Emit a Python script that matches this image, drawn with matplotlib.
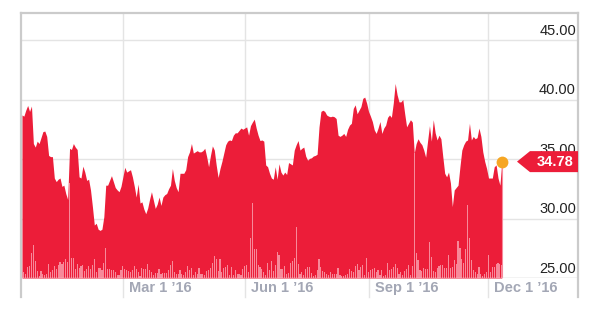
import matplotlib
matplotlib.use('Agg')
import matplotlib.pyplot as plt
import matplotlib.transforms as mtransforms
from matplotlib.patches import Polygon
import numpy as np
import pandas as pd

plt.rcParams['font.family'] = ['Liberation Sans', 'DejaVu Sans']

start_date = '2015-12-11'
market_holidays = ['2015-12-25', '2016-01-01', '2016-01-18', '2016-02-15', '2016-03-25',
                   '2016-05-30', '2016-07-04', '2016-09-05', '2016-11-24']

# daily close
close = [
    38.7, 38.6, 39.1, 39.5, 39.0, 39.45, 36.3, 36.0, 36.5, 36.3,
    36.8, 37.3, 37.35, 36.9, 35.3, 35.2, 35.2, 33.4, 33.1, 33.3,
    33.4, 32.7, 32.8, 32.1, 31.6, 35.9, 35.8, 36.3, 36.0, 35.8,
    33.5, 33.4, 34.4, 33.9, 33.2, 33.3, 32.4, 31.0, 29.45, 29.6,
    29.1, 29.0, 29.1, 30.15, 32.8, 32.8, 33.2, 33.6, 33.1, 32.6,
    32.4, 32.25, 32.7, 33.5, 34.3, 33.9, 34.0, 34.1, 33.5, 32.7,
    31.8, 32.9, 31.3, 31.4, 30.8, 30.4, 30.85, 31.6, 32.25, 31.55,
    30.85, 31.2, 31.8, 31.1, 31.8, 32.0, 32.1, 32.5, 32.8, 34.2,
    33.2, 32.6, 32.25, 33.8, 33.8, 33.8, 34.1, 35.2, 35.6, 36.3,
    35.5, 35.6, 35.7, 35.6, 35.6, 35.7, 35.9, 35.2, 34.35, 35.3,
    36.1, 35.75, 34.5, 33.45, 34.2, 34.8, 35.5, 36.2, 36.5, 36.6,
    36.55, 37.0, 37.2, 37.2, 37.4, 37.6, 37.5, 37.6, 37.7, 37.0,
    37.8, 38.1, 38.35, 37.6, 37.0, 36.55, 36.6, 36.5, 34.5, 34.35,
    33.8, 33.4, 33.3, 34.35, 33.3, 34.6, 33.9, 33.65, 33.9, 33.7,
    34.7, 34.6, 34.5, 35.75, 36.2, 36.55, 35.75, 35.9, 36.0, 35.25,
    34.9, 35.05, 35.1, 35.25, 35.3, 35.4, 37.7, 39.0, 39.1, 39.0,
    38.7, 38.6, 38.55, 38.6, 38.55, 38.4, 37.0, 36.9, 37.0, 37.15,
    36.9, 37.5, 37.85, 38.0, 39.25, 39.55, 38.8, 39.1, 39.4, 40.1,
    40.2, 39.7, 39.0, 38.6, 38.15, 37.45, 37.15, 37.6, 38.15, 37.15,
    37.6, 37.85, 38.5, 38.7, 38.5, 39.7, 41.35, 40.4, 39.8, 39.8,
    40.0, 38.8, 37.7, 38.0, 38.3, 38.1, 35.5, 36.3, 36.7, 36.4,
    36.2, 35.75, 35.15, 36.5, 37.8, 36.5, 38.3, 37.2, 36.6, 37.0,
    36.7, 35.2, 33.8, 33.5, 33.9, 33.0, 31.0, 32.4, 32.6, 32.8,
    34.35, 35.75, 36.2, 36.5, 36.6, 38.0, 36.6, 36.9, 36.7, 36.8,
    37.6, 36.9, 35.6, 34.8, 34.2, 33.4, 33.4, 33.4, 34.35, 34.5,
    33.4, 32.8, 34.78,
]

# daily volume (relative units, chart volume scale tops out at 265)
volume = [
    5, 6, 4, 11, 12, 25, 33, 17, 7, 2,
    7, 4, 3, 4, 14, 6, 8, 12, 9, 13,
    16, 14, 16, 19, 16, 95, 20, 20, 9, 14,
    10, 12, 13, 7, 9, 12, 9, 13, 19, 6,
    10, 10, 8, 15, 30, 9, 9, 8, 8, 6,
    3, 3, 8, 12, 9, 8, 7, 6, 8, 12,
    9, 6, 2, 10, 9, 9, 14, 8, 6, 3,
    5, 5, 9, 4, 5, 5, 5, 8, 13, 17,
    6, 4, 4, 8, 4, 3, 6, 12, 8, 10,
    3, 6, 4, 10, 4, 4, 3, 7, 8, 10,
    15, 22, 19, 7, 19, 6, 10, 11, 13, 3,
    11, 3, 8, 4, 4, 3, 9, 12, 13, 6,
    40, 75, 29, 29, 13, 11, 9, 6, 3, 15,
    8, 17, 7, 13, 26, 23, 9, 9, 12, 4,
    5, 15, 17, 20, 51, 14, 4, 6, 3, 9,
    11, 11, 5, 2, 3, 8, 19, 11, 7, 6,
    4, 3, 6, 4, 4, 4, 10, 3, 2, 2,
    3, 4, 9, 7, 6, 12, 14, 8, 11, 13,
    3, 20, 6, 8, 9, 10, 6, 8, 3, 8,
    2, 3, 15, 8, 9, 11, 14, 10, 4, 6,
    3, 7, 9, 13, 3, 12, 125, 25, 18, 8,
    7, 10, 9, 9, 36, 21, 7, 6, 10, 12,
    13, 13, 10, 10, 23, 10, 11, 18, 14, 37,
    30, 19, 15, 29, 73, 40, 18, 8, 6, 4,
    11, 4, 2, 4, 6, 23, 6, 11, 11, 14,
    15, 14, 13,
]
vol_axis_max = 265

tick_dates = ['2016-03-01', '2016-06-01', '2016-09-01', '2016-12-01']
tick_labels = ['Mar 1 \u201916', 'Jun 1 \u201916', 'Sep 1 \u201916', 'Dec 1 \u201916']
price_ticks = [25, 30, 35, 40, 45]
last_price = close[-1]

red = '#ec1d39'
pink = '#f7899a'
grid_c = '#e4e4e4'
border_c = '#cbcbcb'

dates = pd.bdate_range(start=start_date, periods=len(close), freq='C', holidays=market_holidays)
idx = np.arange(len(close))
tick_pos = dates.searchsorted(pd.to_datetime(tick_dates))

fig = plt.figure(figsize=(6.02, 3.24), dpi=100)
ax = fig.add_axes([21 / 602, 1 - 278 / 324, 557 / 602, 265 / 324])
ymin, ymax = 25, 47.27
ax.set_xlim(-0.5, len(close) + 39)
ax.set_ylim(ymin, ymax)
for s in ax.spines.values():
    s.set_visible(False)
ax.set_xticks([])
ax.set_yticks([])

below = -19 / 265
for p in price_ticks:
    ax.axhline(p, color=grid_c, lw=1, zorder=1)
for t in tick_pos:
    ax.axvline(t, ymin=below, ymax=1, color=grid_c, lw=1, zorder=1, clip_on=False)

ax.fill_between(idx, close, ymin, color=red, lw=0, zorder=2)
vol_h = np.array(volume) * (ymax - ymin) / vol_axis_max
ax.bar(idx, vol_h, bottom=ymin, width=0.6, color=pink, lw=0, zorder=3)
ax.plot([idx[-1], idx[-1]], [ymin, last_price], color=pink, lw=0.8, zorder=3)
ax.axhline(ymin, color='#dedede', lw=1, zorder=4)

# frame
ax.plot([0, 0], [below, 1], transform=ax.transAxes, color=border_c, lw=1.6, clip_on=False, zorder=5)
ax.plot([1, 1], [below, 1], transform=ax.transAxes, color=border_c, lw=1.6, clip_on=False, zorder=5)
ax.plot([0, 1], [1, 1], transform=ax.transAxes, color=border_c, lw=1.6, clip_on=False, zorder=5)

# y labels (the 35.00 one sits behind the price tag, as in the original)
for p in price_ticks:
    ax.annotate(f'{p:.2f}', xy=(1, p), xycoords=('axes fraction', 'data'),
                xytext=(-1.5, 6.5), textcoords='offset points',
                ha='right', va='center', fontsize=10.5, color='#222222', zorder=4)

# x labels
for t, lab in zip(tick_pos, tick_labels):
    ax.annotate(lab, xy=(t, 0), xycoords=('data', 'axes fraction'),
                xytext=(4.3, -7.3), textcoords='offset points',
                ha='left', va='center', fontsize=10.5, fontweight='bold', color='#a3a7b5')

# last price marker and tag
ax.plot(idx[-1], last_price, 'o', color='#f6a623', ms=8.5, mec='none', zorder=7, clip_on=False)
trans = mtransforms.blended_transform_factory(ax.transAxes, ax.transData)
hh = 10.5 * (ymax - ymin) / 265
tip, body = (517 - 21) / 557, (530 - 21) / 557
tag = Polygon([[tip, last_price], [body, last_price + hh], [1, last_price + hh],
               [1, last_price - hh], [body, last_price - hh]],
              closed=True, transform=trans, color=red, lw=0, zorder=6, clip_on=False)
ax.add_patch(tag)
ax.text((body + 1) / 2 + 0.002, last_price, f'{last_price:.2f}', transform=trans,
        ha='center', va='center', fontsize=10.5, fontweight='bold', color='white', zorder=7)

fig.savefig('out.png', dpi=100)
